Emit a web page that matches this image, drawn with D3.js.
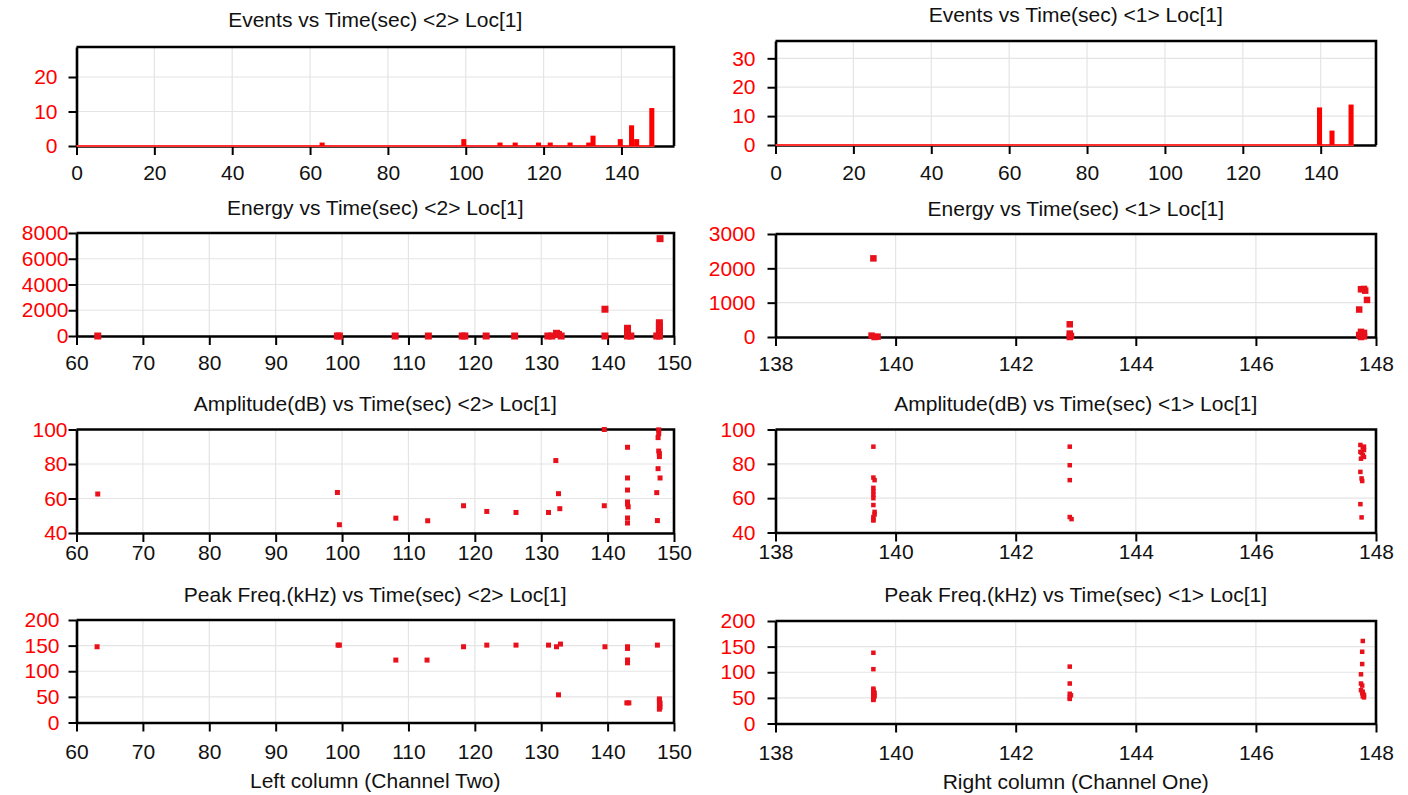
<!DOCTYPE html>
<html>
<head>
<meta charset="utf-8">
<script src="https://cdn.jsdelivr.net/npm/d3@7"></script>
<style>
  body { margin: 0; background: #fff; }
  svg text { font-family: "Liberation Sans", Arial, sans-serif; }
</style>
</head>
<body>
<svg id="chart" width="1408" height="795"></svg>
<script>
// ---------- data ----------

// left column = channel <2>
const eventsLeftTime  = [63.1, 99.5, 108.8, 112.7, 118.7, 121.7, 126.8, 131.6, 132.7, 139.7, 142.6, 143.9, 147.8];
const eventsLeftCount = [1, 2, 1, 1, 1, 1, 1, 1, 3, 2, 6, 2, 11];

// [time, energy]
const energyLeft = [
  [63.2, 0], [99.3, 0], [99.6, 0], [108.0, 0], [113.0, 0], [118.1, 0], [118.5, 0],
  [121.7, 0], [126.0, 0], [131.0, 0], [131.6, 0], [132.3, 210], [132.6, 120], [133.0, 0],
  [139.6, 2080], [139.6, 0], [143.0, 600], [143.0, 350], [143.0, 120], [143.0, 0], [143.5, 0],
  [147.4, 0], [147.8, 1030], [147.8, 750], [147.8, 450], [147.8, 200], [147.8, 0], [147.9, 7560]
];

// [time, amplitude dB]
const ampLeft = [
  [63.2, 62.6], [99.3, 63.5], [99.6, 44.8], [108.1, 48.6], [112.9, 47.1], [118.3, 55.8],
  [121.8, 52.5], [126.2, 51.9], [131.1, 51.9], [132.2, 82.0], [132.6, 62.8], [132.8, 54.1],
  [139.5, 100], [139.5, 55.8], [143.0, 89.7], [143.0, 71.9], [143.0, 64.9], [143.0, 58.0],
  [143.0, 56.8], [143.1, 55.2], [143.0, 48.7], [143.0, 45.8], [147.4, 63.4], [147.5, 47.2],
  [147.6, 77.3], [147.9, 71.9], [147.7, 87.5], [147.8, 86.0], [147.8, 84.3], [147.7, 99.8],
  [147.7, 97.6], [147.6, 95.3]
];

// [time, peak frequency kHz]
const freqLeft = [
  [63.1, 147.8], [99.4, 151], [99.6, 151], [108.1, 121.8], [112.8, 121.8], [118.3, 147.8],
  [121.8, 151], [126.2, 151], [131.1, 151], [132.3, 147.8], [132.9, 153], [132.6, 54],
  [139.6, 147.8], [143.0, 147.8], [143.0, 144.5], [143.0, 122], [143.0, 116.5],
  [142.9, 38.3], [143.2, 38.3], [147.5, 151], [147.8, 46], [147.8, 42], [147.9, 38],
  [147.8, 34], [147.9, 30], [147.8, 26]
];

// right column = channel <1>
const eventsRightTime  = [139.7, 142.9, 147.8];
const eventsRightCount = [13, 5, 14];

const energyRight = [
  [139.63, 2290], [139.6, 40], [139.7, 10], [139.65, 0], [142.9, 370], [142.9, 100],
  [142.92, 30], [142.9, 0], [147.72, 800], [147.75, 1390], [147.8, 1400], [147.82, 1350],
  [147.85, 1080], [147.75, 150], [147.8, 120], [147.72, 60], [147.75, 0], [147.8, 20]
];

const ampRight = [
  [139.63, 90], [139.63, 72], [139.65, 70.5], [139.63, 66], [139.63, 64], [139.63, 62],
  [139.63, 60], [139.63, 56], [139.65, 52], [139.65, 50.5], [139.63, 49], [139.63, 47.5],
  [139.63, 47], [142.9, 90], [142.9, 79.2], [142.9, 70.5], [142.9, 49], [142.93, 47.8],
  [147.74, 91], [147.78, 89.5], [147.8, 88], [147.76, 86.5], [147.78, 85], [147.8, 84],
  [147.75, 83], [147.74, 75.3], [147.76, 71.5], [147.77, 70], [147.74, 56.5], [147.76, 48.8],
  [147.8, 90], [147.74, 87]
];

const freqRight = [
  [139.63, 138], [139.63, 106], [139.63, 68], [139.63, 65], [139.63, 62], [139.65, 60],
  [139.63, 58], [139.63, 55], [139.65, 53], [139.63, 51], [139.63, 49], [139.63, 47],
  [139.63, 46], [142.9, 111], [142.9, 78], [142.9, 58], [142.92, 55], [142.9, 51],
  [142.9, 48], [147.78, 161], [147.77, 140], [147.77, 116], [147.75, 96], [147.75, 78],
  [147.77, 74], [147.75, 65], [147.78, 62], [147.77, 59], [147.8, 56], [147.78, 53], [147.8, 51]
];

// tick values
const eventsTicksX = [0, 20, 40, 60, 80, 100, 120, 140];
const leftTicksX   = [60, 70, 80, 90, 100, 110, 120, 130, 140, 150];
const rightTicksX  = [138, 140, 142, 144, 146, 148];

// ---------- drawing ----------
const RED = "#ff0000";
const svg = d3.select("#chart");

const colL = { left: 76.5, right: 674 };
const colR = { left: 775.5, right: 1376 };

function panel(p) {
  const x = d3.scaleLinear().domain(p.xDomain).range([p.left, p.right]);
  const y = d3.scaleLinear().domain(p.yDomain).range([p.bottom, p.top]);
  const g = svg.append("g");

  // light grid
  g.append("g").selectAll("line").data(p.xTicks).join("line")
    .attr("x1", d => x(d)).attr("x2", d => x(d))
    .attr("y1", p.top).attr("y2", p.bottom)
    .attr("stroke", "#e4e4e4").attr("stroke-width", 1.2);
  g.append("g").selectAll("line").data(p.yTicks).join("line")
    .attr("x1", p.left).attr("x2", p.right)
    .attr("y1", d => y(d)).attr("y2", d => y(d))
    .attr("stroke", "#e4e4e4").attr("stroke-width", 1.2);

  g.append("text")
    .attr("x", (p.left + p.right) / 2).attr("y", p.titleY)
    .attr("dy", "0.35em").attr("text-anchor", "middle")
    .style("font-size", "21px").attr("fill", "#111")
    .text(p.title);

  // frame top + right
  g.append("path")
    .attr("d", `M${p.left},${p.top}H${p.right}V${p.bottom}`)
    .attr("fill", "none").attr("stroke", "#000").attr("stroke-width", 2.6);

  const xa = g.append("g")
    .attr("transform", `translate(0,${p.bottom})`)
    .call(d3.axisBottom(x).tickValues(p.xTicks).tickFormat(d3.format("d"))
      .tickSize(9).tickSizeOuter(0).tickPadding(p.xPad));
  const ya = g.append("g")
    .attr("transform", `translate(${p.left},0)`)
    .call(d3.axisLeft(y).tickValues(p.yTicks).tickFormat(d3.format("d"))
      .tickSize(8).tickSizeOuter(0).tickPadding(p.yPad));

  [xa, ya].forEach(a => {
    a.select(".domain").attr("stroke", "#000").attr("stroke-width", 2.6);
    a.selectAll(".tick line").attr("stroke", "#000").attr("stroke-width", 2);
    a.selectAll("text").style("font-size", "21px").attr("font-family", null);
  });
  xa.selectAll("text").attr("fill", "#111");
  ya.selectAll("text").attr("fill", RED);

  return { g, x, y };
}

function bars(p, times, counts) {
  const binW = 1.3;
  const { g, x, y } = p;
  // zero line of the histogram, drawn in red over the axis
  g.append("line")
    .attr("x1", x(0)).attr("x2", x(d3.max(times) + 0.7))
    .attr("y1", y(0)).attr("y2", y(0))
    .attr("stroke", "#ff3030").attr("stroke-width", 2.2);
  g.append("g").selectAll("rect").data(times).join("rect")
    .attr("x", d => x(d - binW / 2))
    .attr("width", x(binW) - x(0))
    .attr("y", (d, i) => y(counts[i]))
    .attr("height", (d, i) => y(0) - y(counts[i]))
    .attr("fill", RED);
}

function dots(p, pts, size) {
  const { g, x, y } = p;
  g.append("g").selectAll("rect").data(pts).join("rect")
    .attr("x", d => x(d[0]) - size / 2)
    .attr("y", d => y(d[1]) - size / 2)
    .attr("width", size).attr("height", size)
    .attr("fill", "#e8101a");
}

// row 1: events
const evL = panel({ ...colL, top: 47, bottom: 146, xDomain: [0, 153.5], yDomain: [0, 28.7],
  xTicks: eventsTicksX, yTicks: [0, 10, 20], titleY: 20, xPad: 10, yPad: 11,
  title: "Events vs Time(sec) <2> Loc[1]" });
bars(evL, eventsLeftTime, eventsLeftCount);

const evR = panel({ ...colR, top: 41, bottom: 145, xDomain: [0, 154.2], yDomain: [0, 36],
  xTicks: eventsTicksX, yTicks: [0, 10, 20, 30], titleY: 15, xPad: 11, yPad: 12,
  title: "Events vs Time(sec) <1> Loc[1]" });
bars(evR, eventsRightTime, eventsRightCount);

// row 2: energy
const enL = panel({ ...colL, top: 233, bottom: 336, xDomain: [60, 150], yDomain: [0, 8000],
  xTicks: leftTicksX, yTicks: [0, 2000, 4000, 6000, 8000], titleY: 208, xPad: 10, yPad: 0,
  title: "Energy vs Time(sec) <2> Loc[1]" });
dots(enL, energyLeft, 7);

const enR = panel({ ...colR, top: 234, bottom: 337, xDomain: [138, 148], yDomain: [0, 3000],
  xTicks: rightTicksX, yTicks: [0, 1000, 2000, 3000], titleY: 209, xPad: 10, yPad: 12,
  title: "Energy vs Time(sec) <1> Loc[1]" });
dots(enR, energyRight, 6.5);

// row 3: amplitude
const amL = panel({ ...colL, top: 429.5, bottom: 533, xDomain: [60, 150], yDomain: [40, 100],
  xTicks: leftTicksX, yTicks: [40, 60, 80, 100], titleY: 404, xPad: 3, yPad: 1,
  title: "Amplitude(dB) vs Time(sec) <2> Loc[1]" });
dots(amL, ampLeft, 5);

const amR = panel({ ...colR, top: 429.5, bottom: 532.5, xDomain: [138, 148], yDomain: [40, 100],
  xTicks: rightTicksX, yTicks: [40, 60, 80, 100], titleY: 404, xPad: 3, yPad: 12,
  title: "Amplitude(dB) vs Time(sec) <1> Loc[1]" });
dots(amR, ampRight, 4.5);

// row 4: peak frequency
const pfL = panel({ ...colL, top: 620, bottom: 722.5, xDomain: [60, 150], yDomain: [0, 200],
  xTicks: leftTicksX, yTicks: [0, 50, 100, 150, 200], titleY: 595, xPad: 13, yPad: 9,
  title: "Peak Freq.(kHz) vs Time(sec) <2> Loc[1]" });
dots(pfL, freqLeft, 5);

const pfR = panel({ ...colR, top: 621, bottom: 723.5, xDomain: [138, 148], yDomain: [0, 200],
  xTicks: rightTicksX, yTicks: [0, 50, 100, 150, 200], titleY: 595, xPad: 13, yPad: 12,
  title: "Peak Freq.(kHz) vs Time(sec) <1> Loc[1]" });
dots(pfR, freqRight, 4.5);

// column captions
svg.append("text").attr("x", (colL.left + colL.right) / 2).attr("y", 781).attr("dy", "0.35em")
  .attr("text-anchor", "middle").style("font-size", "21px").attr("fill", "#111")
  .text("Left column (Channel Two)");
svg.append("text").attr("x", (colR.left + colR.right) / 2).attr("y", 782).attr("dy", "0.35em")
  .attr("text-anchor", "middle").style("font-size", "21px").attr("fill", "#111")
  .text("Right column (Channel One)");
</script>
</body>
</html>
